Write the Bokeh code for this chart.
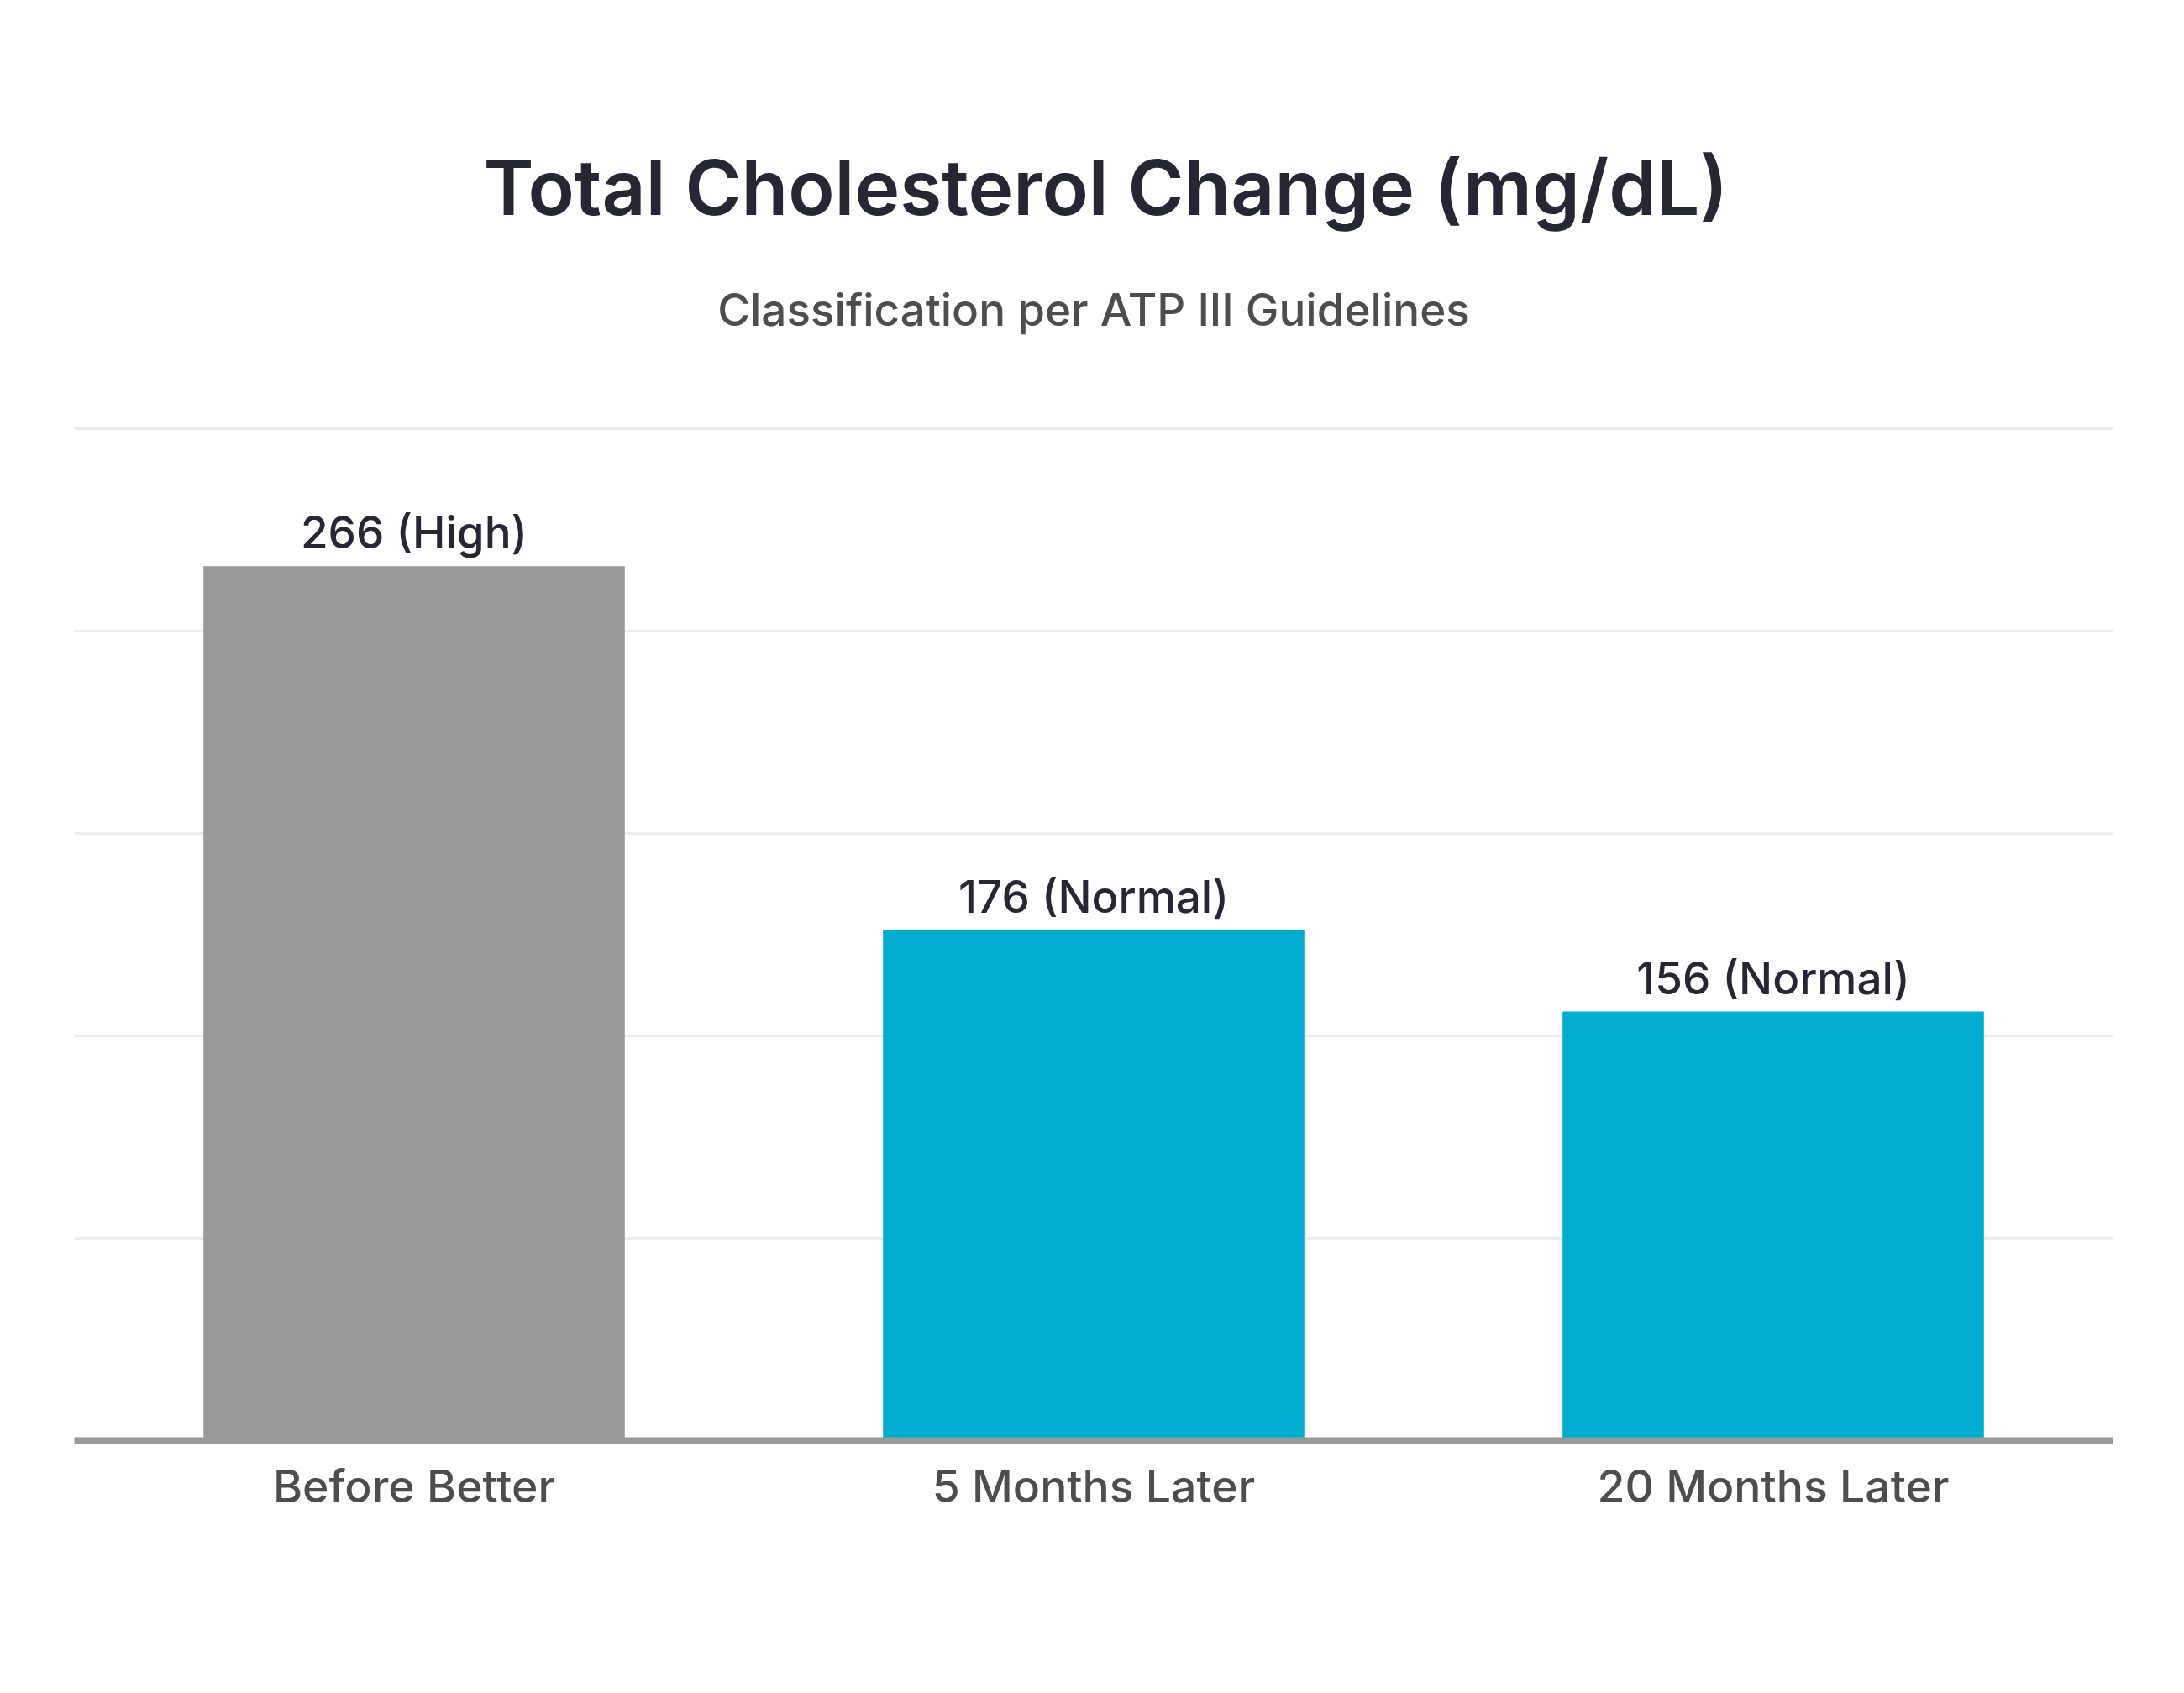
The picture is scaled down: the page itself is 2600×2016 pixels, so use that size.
from bokeh.plotting import figure
from bokeh.models import FactorRange, Range1d, Title, ColumnDataSource, SingleIntervalTicker
from bokeh.core.properties import value
from bokeh.embed import file_html
from bokeh.resources import INLINE

categories = ["Before Better", "5 Months Later", "20 Months Later"]
values = [266, 176, 156]
labels = ["266 (High)", "176 (Normal)", "156 (Normal)"]
colors = ["#999999", "#00ADCE", "#00ADCE"]
y_start = 50
y_end = 301

FONT = "'Inter SemiBold', Inter"
FONT_M = "'Inter Medium', Inter"

p = figure(width=2584, height=2000, output_backend="svg", toolbar_location=None,
           x_range=FactorRange(*categories, range_padding=0),
           y_range=Range1d(y_start, y_end),
           min_border_left=88, min_border_right=69, min_border_top=505, min_border_bottom=285)

p.title = None
sub = Title(text="Classification per ATP III Guidelines", align="center",
            text_font=FONT_M, text_font_size="53px", text_font_style="normal",
            text_color="#4D4D4D", standoff=210)
p.add_layout(sub, "above")
main = Title(text="Total Cholesterol Change (mg/dL)", align="left", offset=487,
             text_font=FONT, text_font_size="91px", text_font_style="normal",
             text_color="#262635", standoff=-97)
p.add_layout(main, "above")

src = ColumnDataSource(dict(x=categories, top=values, label=labels, color=colors))
p.vbar(x="x", top="top", bottom=y_start, width=0.62, fill_color="color", line_color=None, source=src)
p.text(x="x", y="top", text="label", source=src, text_align="center", text_baseline="bottom",
       y_offset=-8, text_font=value(FONT_M), text_font_size="53px", text_color="#262635")

p.outline_line_color = None
p.background_fill_color = "white"
p.border_fill_color = "white"
p.xgrid.grid_line_color = None
p.ygrid.grid_line_color = "#EBEBEB"
p.ygrid.grid_line_width = 3
p.yaxis.ticker = SingleIntervalTicker(interval=50)
p.yaxis.visible = False
p.ygrid.ticker = SingleIntervalTicker(interval=50)

xa = p.xaxis[0]
xa.axis_line_color = "#999999"
xa.axis_line_width = 8
xa.major_tick_line_color = None
xa.minor_tick_line_color = None
xa.major_label_text_font = FONT_M
xa.major_label_text_font_size = "53.5px"
xa.major_label_text_color = "#4D4D4D"
xa.major_label_standoff = 15

open("out.html", "w").write(file_html(p, INLINE))
